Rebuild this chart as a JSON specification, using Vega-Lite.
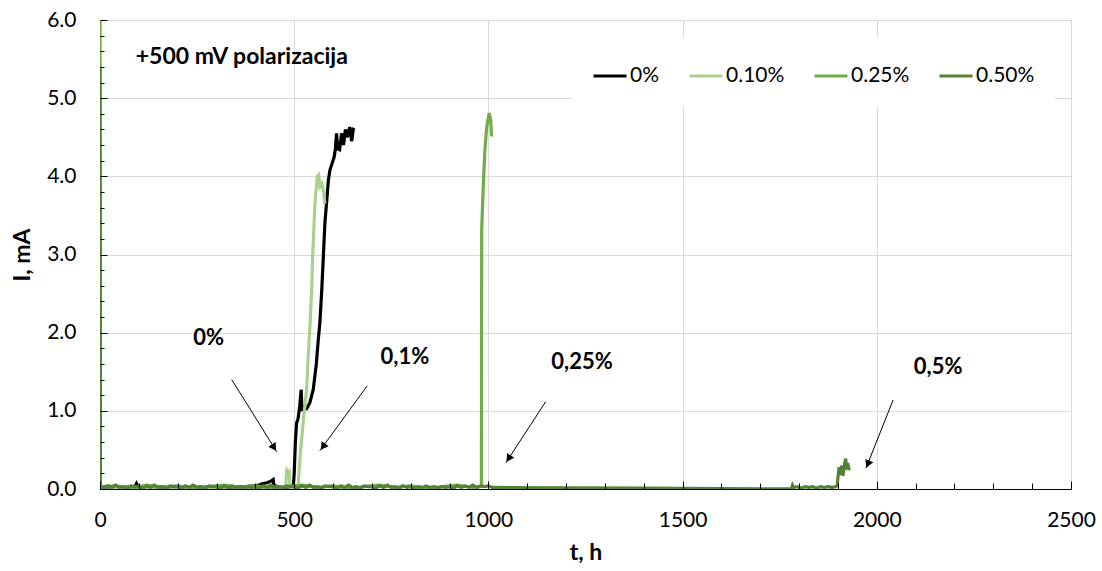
{
  "$schema": "https://vega.github.io/schema/vega-lite/v6.json",
  "width": 971,
  "height": 469,
  "autosize": "none",
  "padding": {"left": 100, "top": 20, "right": 31, "bottom": 82},
  "background": "white",
  "config": {
    "font": "Lato",
    "view": {"stroke": "#404040", "strokeWidth": 1},
    "axis": {"labelColor": "#000", "titleColor": "#000", "domainColor": "#000", "tickColor": "#000", "gridColor": "#d9d9d9", "gridWidth": 1}
  },
  "datasets": {
    "series": [
      {"s":"0%","t":0,"I":3.8},{"s":"0%","t":1,"I":0.03},{"s":"0%","t":15,"I":0.02},{"s":"0%","t":30,"I":0.03},{"s":"0%","t":45,"I":0.02},{"s":"0%","t":60,"I":0.02},{"s":"0%","t":75,"I":0.03},{"s":"0%","t":90,"I":0.03},{"s":"0%","t":94,"I":0.07},{"s":"0%","t":98,"I":0.03},{"s":"0%","t":115,"I":0.02},{"s":"0%","t":135,"I":0.03},{"s":"0%","t":155,"I":0.02},{"s":"0%","t":175,"I":0.02},{"s":"0%","t":195,"I":0.03},{"s":"0%","t":215,"I":0.02},{"s":"0%","t":235,"I":0.02},{"s":"0%","t":255,"I":0.03},{"s":"0%","t":275,"I":0.02},{"s":"0%","t":295,"I":0.02},{"s":"0%","t":315,"I":0.03},{"s":"0%","t":335,"I":0.02},{"s":"0%","t":355,"I":0.03},{"s":"0%","t":375,"I":0.03},{"s":"0%","t":395,"I":0.04},{"s":"0%","t":410,"I":0.05},{"s":"0%","t":420,"I":0.07},{"s":"0%","t":430,"I":0.08},{"s":"0%","t":440,"I":0.1},{"s":"0%","t":446,"I":0.12},{"s":"0%","t":448,"I":0.04},{"s":"0%","t":460,"I":0.03},{"s":"0%","t":475,"I":0.02},{"s":"0%","t":490,"I":0.03},{"s":"0%","t":498,"I":0.05},{"s":"0%","t":500,"I":0.2},{"s":"0%","t":503,"I":0.6},{"s":"0%","t":506,"I":0.84},{"s":"0%","t":510,"I":0.9},{"s":"0%","t":514,"I":1.05},{"s":"0%","t":518,"I":1.27},{"s":"0%","t":520,"I":1.0},{"s":"0%","t":525,"I":1.05},{"s":"0%","t":532,"I":1.03},{"s":"0%","t":540,"I":1.1},{"s":"0%","t":549,"I":1.27},{"s":"0%","t":557,"I":1.6},{"s":"0%","t":562,"I":1.91},{"s":"0%","t":566,"I":2.12},{"s":"0%","t":571,"I":2.55},{"s":"0%","t":575,"I":2.97},{"s":"0%","t":579,"I":3.4},{"s":"0%","t":584,"I":3.7},{"s":"0%","t":588,"I":3.95},{"s":"0%","t":592,"I":4.08},{"s":"0%","t":598,"I":4.17},{"s":"0%","t":603,"I":4.25},{"s":"0%","t":606,"I":4.35},{"s":"0%","t":609,"I":4.55},{"s":"0%","t":612,"I":4.35},{"s":"0%","t":617,"I":4.34},{"s":"0%","t":622,"I":4.55},{"s":"0%","t":627,"I":4.4},{"s":"0%","t":632,"I":4.6},{"s":"0%","t":637,"I":4.5},{"s":"0%","t":643,"I":4.63},{"s":"0%","t":648,"I":4.45},{"s":"0%","t":652,"I":4.6},{"s":"0%","t":656,"I":4.59},
      {"s":"0.10%","t":0,"I":0.02},{"s":"0.10%","t":20,"I":0.03},{"s":"0.10%","t":40,"I":0.02},{"s":"0.10%","t":60,"I":0.02},{"s":"0.10%","t":80,"I":0.03},{"s":"0.10%","t":100,"I":0.02},{"s":"0.10%","t":130,"I":0.02},{"s":"0.10%","t":160,"I":0.03},{"s":"0.10%","t":190,"I":0.02},{"s":"0.10%","t":220,"I":0.02},{"s":"0.10%","t":250,"I":0.03},{"s":"0.10%","t":280,"I":0.02},{"s":"0.10%","t":310,"I":0.02},{"s":"0.10%","t":340,"I":0.03},{"s":"0.10%","t":370,"I":0.02},{"s":"0.10%","t":400,"I":0.02},{"s":"0.10%","t":430,"I":0.03},{"s":"0.10%","t":460,"I":0.02},{"s":"0.10%","t":478,"I":0.03},{"s":"0.10%","t":481,"I":0.24},{"s":"0.10%","t":484,"I":0.22},{"s":"0.10%","t":487,"I":0.23},{"s":"0.10%","t":489,"I":0.03},{"s":"0.10%","t":500,"I":0.02},{"s":"0.10%","t":510,"I":0.03},{"s":"0.10%","t":515,"I":0.41},{"s":"0.10%","t":519,"I":0.63},{"s":"0.10%","t":525,"I":0.95},{"s":"0.10%","t":532,"I":1.27},{"s":"0.10%","t":536,"I":1.69},{"s":"0.10%","t":541,"I":2.12},{"s":"0.10%","t":545,"I":2.55},{"s":"0.10%","t":547.5,"I":2.97},{"s":"0.10%","t":551,"I":3.4},{"s":"0.10%","t":554,"I":3.7},{"s":"0.10%","t":559.5,"I":4.0},{"s":"0.10%","t":563,"I":4.02},{"s":"0.10%","t":566,"I":3.87},{"s":"0.10%","t":571,"I":3.91},{"s":"0.10%","t":575,"I":3.82},{"s":"0.10%","t":579,"I":3.65},
      {"s":"0.25%","t":0,"I":6.5},{"s":"0.25%","t":1,"I":0.03},{"s":"0.25%","t":40,"I":0.04},{"s":"0.25%","t":80,"I":0.01},{"s":"0.25%","t":120,"I":0.05},{"s":"0.25%","t":160,"I":0.02},{"s":"0.25%","t":200,"I":0.04},{"s":"0.25%","t":240,"I":0.01},{"s":"0.25%","t":280,"I":0.03},{"s":"0.25%","t":320,"I":0.05},{"s":"0.25%","t":360,"I":0.02},{"s":"0.25%","t":400,"I":0.04},{"s":"0.25%","t":440,"I":0.01},{"s":"0.25%","t":480,"I":0.03},{"s":"0.25%","t":520,"I":0.05},{"s":"0.25%","t":560,"I":0.02},{"s":"0.25%","t":600,"I":0.04},{"s":"0.25%","t":640,"I":0.01},{"s":"0.25%","t":680,"I":0.03},{"s":"0.25%","t":720,"I":0.05},{"s":"0.25%","t":760,"I":0.02},{"s":"0.25%","t":800,"I":0.04},{"s":"0.25%","t":840,"I":0.01},{"s":"0.25%","t":880,"I":0.03},{"s":"0.25%","t":920,"I":0.05},{"s":"0.25%","t":960,"I":0.02},{"s":"0.25%","t":978,"I":0.03},{"s":"0.25%","t":982,"I":0.05},{"s":"0.25%","t":982.7,"I":3.31},{"s":"0.25%","t":987,"I":3.91},{"s":"0.25%","t":991,"I":4.34},{"s":"0.25%","t":995.6,"I":4.63},{"s":"0.25%","t":1002,"I":4.81},{"s":"0.25%","t":1006,"I":4.72},{"s":"0.25%","t":1008,"I":4.51},
      {"s":"0.50%","t":0,"I":5.4},{"s":"0.50%","t":1,"I":0.04},{"s":"0.50%","t":10,"I":0.01},{"s":"0.50%","t":20,"I":0.04},{"s":"0.50%","t":30,"I":0.02},{"s":"0.50%","t":40,"I":0.05},{"s":"0.50%","t":50,"I":0.02},{"s":"0.50%","t":60,"I":0.03},{"s":"0.50%","t":70,"I":0.01},{"s":"0.50%","t":80,"I":0.04},{"s":"0.50%","t":90,"I":0.03},{"s":"0.50%","t":100,"I":0.03},{"s":"0.50%","t":110,"I":0.01},{"s":"0.50%","t":120,"I":0.04},{"s":"0.50%","t":130,"I":0.02},{"s":"0.50%","t":140,"I":0.05},{"s":"0.50%","t":150,"I":0.02},{"s":"0.50%","t":160,"I":0.03},{"s":"0.50%","t":170,"I":0.01},{"s":"0.50%","t":180,"I":0.04},{"s":"0.50%","t":190,"I":0.03},{"s":"0.50%","t":200,"I":0.03},{"s":"0.50%","t":210,"I":0.01},{"s":"0.50%","t":220,"I":0.04},{"s":"0.50%","t":230,"I":0.02},{"s":"0.50%","t":240,"I":0.05},{"s":"0.50%","t":250,"I":0.02},{"s":"0.50%","t":260,"I":0.03},{"s":"0.50%","t":270,"I":0.01},{"s":"0.50%","t":280,"I":0.04},{"s":"0.50%","t":290,"I":0.03},{"s":"0.50%","t":300,"I":0.03},{"s":"0.50%","t":310,"I":0.01},{"s":"0.50%","t":320,"I":0.04},{"s":"0.50%","t":330,"I":0.02},{"s":"0.50%","t":340,"I":0.04},{"s":"0.50%","t":350,"I":0.02},{"s":"0.50%","t":360,"I":0.03},{"s":"0.50%","t":370,"I":0.01},{"s":"0.50%","t":380,"I":0.03},{"s":"0.50%","t":390,"I":0.02},{"s":"0.50%","t":400,"I":0.03},{"s":"0.50%","t":410,"I":0.01},{"s":"0.50%","t":420,"I":0.04},{"s":"0.50%","t":430,"I":0.02},{"s":"0.50%","t":440,"I":0.05},{"s":"0.50%","t":450,"I":0.02},{"s":"0.50%","t":460,"I":0.03},{"s":"0.50%","t":470,"I":0.01},{"s":"0.50%","t":480,"I":0.04},{"s":"0.50%","t":490,"I":0.03},{"s":"0.50%","t":500,"I":0.03},{"s":"0.50%","t":510,"I":0.01},{"s":"0.50%","t":520,"I":0.04},{"s":"0.50%","t":530,"I":0.02},{"s":"0.50%","t":540,"I":0.05},{"s":"0.50%","t":550,"I":0.02},{"s":"0.50%","t":560,"I":0.03},{"s":"0.50%","t":570,"I":0.01},{"s":"0.50%","t":580,"I":0.04},{"s":"0.50%","t":590,"I":0.03},{"s":"0.50%","t":600,"I":0.03},{"s":"0.50%","t":610,"I":0.01},{"s":"0.50%","t":620,"I":0.04},{"s":"0.50%","t":630,"I":0.02},{"s":"0.50%","t":640,"I":0.05},{"s":"0.50%","t":650,"I":0.02},{"s":"0.50%","t":660,"I":0.03},{"s":"0.50%","t":670,"I":0.01},{"s":"0.50%","t":680,"I":0.04},{"s":"0.50%","t":690,"I":0.03},{"s":"0.50%","t":700,"I":0.03},{"s":"0.50%","t":710,"I":0.01},{"s":"0.50%","t":720,"I":0.04},{"s":"0.50%","t":730,"I":0.02},{"s":"0.50%","t":740,"I":0.05},{"s":"0.50%","t":750,"I":0.02},{"s":"0.50%","t":760,"I":0.03},{"s":"0.50%","t":770,"I":0.01},{"s":"0.50%","t":780,"I":0.04},{"s":"0.50%","t":790,"I":0.02},{"s":"0.50%","t":800,"I":0.03},{"s":"0.50%","t":810,"I":0.01},{"s":"0.50%","t":820,"I":0.03},{"s":"0.50%","t":830,"I":0.02},{"s":"0.50%","t":840,"I":0.04},{"s":"0.50%","t":850,"I":0.02},{"s":"0.50%","t":860,"I":0.03},{"s":"0.50%","t":870,"I":0.01},{"s":"0.50%","t":880,"I":0.03},{"s":"0.50%","t":890,"I":0.02},{"s":"0.50%","t":900,"I":0.03},{"s":"0.50%","t":910,"I":0.01},{"s":"0.50%","t":920,"I":0.04},{"s":"0.50%","t":930,"I":0.02},{"s":"0.50%","t":940,"I":0.04},{"s":"0.50%","t":950,"I":0.02},{"s":"0.50%","t":960,"I":0.05},{"s":"0.50%","t":970,"I":0.02},{"s":"0.50%","t":980,"I":0.04},{"s":"0.50%","t":990,"I":0.03},{"s":"0.50%","t":1000,"I":0.04},{"s":"0.50%","t":1010,"I":0.02},{"s":"0.50%","t":1200,"I":0.015},{"s":"0.50%","t":1400,"I":0.01},{"s":"0.50%","t":1600,"I":0.005},{"s":"0.50%","t":1780,"I":0.002},{"s":"0.50%","t":1783,"I":0.05},{"s":"0.50%","t":1786,"I":0.02},{"s":"0.50%","t":1795,"I":0.03},{"s":"0.50%","t":1805,"I":0.01},{"s":"0.50%","t":1815,"I":0.03},{"s":"0.50%","t":1825,"I":0.02},{"s":"0.50%","t":1835,"I":0.03},{"s":"0.50%","t":1845,"I":0.01},{"s":"0.50%","t":1855,"I":0.03},{"s":"0.50%","t":1865,"I":0.02},{"s":"0.50%","t":1875,"I":0.03},{"s":"0.50%","t":1885,"I":0.02},{"s":"0.50%","t":1895,"I":0.03},{"s":"0.50%","t":1898,"I":0.05},{"s":"0.50%","t":1901,"I":0.2},{"s":"0.50%","t":1903,"I":0.28},{"s":"0.50%","t":1906,"I":0.18},{"s":"0.50%","t":1910,"I":0.3},{"s":"0.50%","t":1913,"I":0.17},{"s":"0.50%","t":1917,"I":0.32},{"s":"0.50%","t":1920,"I":0.39},{"s":"0.50%","t":1922,"I":0.25},{"s":"0.50%","t":1925,"I":0.33},{"s":"0.50%","t":1929,"I":0.24}
    ],
    "heading": [{"t": 92, "I": 5.53, "txt": "+500 mV polarizacija"}],
    "notes": [
      {"t": 280, "I": 1.93, "txt": "0%"},
      {"t": 785, "I": 1.69, "txt": "0,1%"},
      {"t": 1241, "I": 1.62, "txt": "0,25%"},
      {"t": 2158, "I": 1.56, "txt": "0,5%"}
    ],
    "arrows": [
      {"t": 339, "I": 1.40, "t2": 455, "I2": 0.477, "ht": 448, "hI": 0.53, "ang": 148},
      {"t": 688, "I": 1.32, "t2": 566, "I2": 0.49, "ht": 574, "hI": 0.54, "ang": 216},
      {"t": 1147.5, "I": 1.117, "t2": 1045, "I2": 0.336, "ht": 1052, "hI": 0.39, "ang": 213},
      {"t": 2042, "I": 1.139, "t2": 1972, "I2": 0.265, "ht": 1977, "hI": 0.32, "ang": 202}
    ]
  },
  "layer": [
    {
      "data": {"name": "series"},
      "mark": {"type": "line", "strokeWidth": 3.2, "clip": true},
      "encoding": {
        "x": {"field": "t", "type": "quantitative", "scale": {"domain": [0, 2500], "nice": false, "zero": false},
          "axis": {"orient": "bottom", "values": [0, 500, 1000, 1500, 2000, 2500], "format": "d", "ticks": false, "grid": true, "labelFontSize": 21, "labelPadding": 20, "labelFlush": false, "labelOverlap": false, "title": "t, h", "titleFontSize": 23, "titleFontWeight": "bold", "titlePadding": 11}},
        "y": {"field": "I", "type": "quantitative", "scale": {"domain": [0, 6], "nice": false},
          "axis": {"orient": "left", "values": [0, 1, 2, 3, 4, 5, 6], "format": ".1f", "ticks": false, "grid": true, "labelFontSize": 21, "labelPadding": 24, "labelFlush": false, "labelOverlap": false, "title": "I, mA", "titleFontSize": 23, "titleFontWeight": "bold", "titlePadding": 12}},
        "color": {"field": "s", "type": "nominal",
          "scale": {"domain": ["0%", "0.10%", "0.25%", "0.50%"], "range": ["#000000", "#a9d18e", "#70ad47", "#548235"]},
          "legend": {"orient": "none", "legendX": 472, "legendY": 18, "direction": "horizontal", "fillColor": "white", "padding": 20, "symbolType": "stroke", "symbolSize": 1089, "symbolStrokeWidth": 3, "labelFontSize": 21, "labelColor": "#000", "labelOffset": 2, "columnPadding": 23, "title": null}}
      }
    },
    {
      "data": {"name": "heading"},
      "mark": {"type": "text", "align": "left", "baseline": "middle", "fontSize": 23, "fontWeight": "bold", "color": "#000"},
      "encoding": {
        "x": {"field": "t", "type": "quantitative", "scale": {"domain": [0, 2500], "nice": false},
          "axis": {"orient": "bottom", "values": [0, 500, 1000, 1500, 2000, 2500], "labels": false, "domain": false, "grid": false, "ticks": true, "tickSize": 8, "offset": -8, "tickColor": "#000", "zindex": 1, "title": null}},
        "y": {"field": "I", "type": "quantitative", "scale": {"domain": [0, 6], "nice": false},
          "axis": {"orient": "left", "values": [0, 1, 2, 3, 4, 5, 6], "labels": false, "domain": false, "grid": false, "ticks": true, "tickSize": 7, "offset": -7, "tickColor": "#000", "zindex": 1, "title": null}},
        "text": {"field": "txt"}
      }
    },
    {
      "data": {"name": "arrows"},
      "mark": {"type": "rule", "color": "#000", "strokeWidth": 1},
      "encoding": {
        "x": {"field": "t", "type": "quantitative", "scale": {"domain": [0, 2500], "nice": false},
          "axis": {"orient": "bottom", "values": [100, 200, 300, 400, 600, 700, 800, 900, 1100, 1200, 1300, 1400, 1600, 1700, 1800, 1900, 2100, 2200, 2300, 2400], "labels": false, "domain": false, "grid": false, "ticks": true, "tickSize": 6, "offset": -6, "tickColor": "#000", "zindex": 1, "title": null}},
        "y": {"field": "I", "type": "quantitative", "scale": {"domain": [0, 6], "nice": false},
          "axis": {"orient": "left", "values": [0.2, 0.4, 0.6, 0.8, 1.2, 1.4, 1.6, 1.8, 2.2, 2.4, 2.6, 2.8, 3.2, 3.4, 3.6, 3.8, 4.2, 4.4, 4.6, 4.8, 5.2, 5.4, 5.6, 5.8], "labels": false, "domain": false, "grid": false, "ticks": true, "tickSize": 4, "offset": -4, "tickColor": "#000", "zindex": 1, "title": null}},
        "x2": {"field": "t2"},
        "y2": {"field": "I2"}
      }
    },
    {
      "data": {"name": "arrows"},
      "mark": {"type": "point", "shape": "triangle-up", "filled": true, "color": "#000", "size": 75, "opacity": 1},
      "encoding": {
        "x": {"field": "ht", "type": "quantitative", "scale": {"domain": [0, 2500], "nice": false}, "axis": null},
        "y": {"field": "hI", "type": "quantitative", "scale": {"domain": [0, 6], "nice": false}, "axis": null},
        "angle": {"field": "ang", "type": "quantitative", "scale": null}
      }
    },
    {
      "data": {"name": "notes"},
      "mark": {"type": "text", "align": "center", "baseline": "middle", "fontSize": 22, "fontWeight": "bold", "color": "#000"},
      "encoding": {
        "x": {"field": "t", "type": "quantitative", "scale": {"domain": [0, 2500], "nice": false}, "axis": null},
        "y": {"field": "I", "type": "quantitative", "scale": {"domain": [0, 6], "nice": false}, "axis": null},
        "text": {"field": "txt"}
      }
    }
  ],
  "resolve": {"axis": {"x": "independent", "y": "independent"}}
}
